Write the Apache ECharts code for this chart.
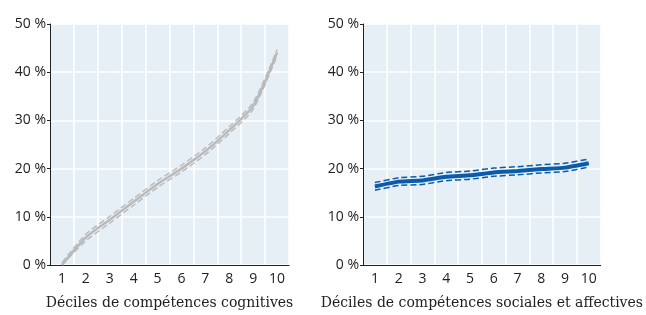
<!DOCTYPE html>
<html>
<head>
<meta charset="utf-8">
<script src="https://cdn.jsdelivr.net/npm/echarts@6/dist/echarts.min.js"></script>
<style>
  html, body { margin: 0; padding: 0; background: #fff; }
  #chart { width: 646px; height: 315px; }
</style>
</head>
<body>
<div id="chart"></div>
<script>
// categories (déciles)
let deciles = ['1', '2', '3', '4', '5', '6', '7', '8', '9', '10']
let yTicks = [0, 10, 20, 30, 40, 50]

// compétences cognitives (gris)
let cogMain = [0, 5.7, 9.4, 13.1, 16.8, 20.0, 23.6, 28.0, 33.0, 44.1]
let cogHigh = [0.5, 6.4, 10.1, 13.8, 17.5, 20.7, 24.3, 28.7, 33.7, 44.7]
let cogLow = [0, 5.0, 8.7, 12.4, 16.1, 19.3, 22.9, 27.3, 32.3, 43.4]

// compétences sociales et affectives (bleu)
let socMain = [16.3, 17.3, 17.55, 18.3, 18.6, 19.2, 19.5, 19.9, 20.2, 21.1]
let socHigh = [17.1, 18.1, 18.4, 19.2, 19.5, 20.1, 20.4, 20.8, 21.1, 22.0]
let socLow = [15.5, 16.5, 16.7, 17.5, 17.8, 18.4, 18.7, 19.1, 19.4, 20.3]

let axisNames = ['Déciles de compétences cognitives', 'Déciles de compétences sociales et affectives']

let gray = '#bababa'
let blue = '#0a5ca8'
let numFont = 'Open Sans'

let myChart = echarts.init(document.getElementById('chart'))

let makeX = (i) => ({
    type: 'category',
    gridIndex: i,
    data: deciles,
    boundaryGap: true,
    name: axisNames[i],
    nameLocation: 'middle',
    nameGap: 31,
    nameTextStyle: {
        fontFamily: 'DejaVu Serif',
        fontSize: 14,
        color: '#222'
    },
    axisLine: { lineStyle: { color: '#222', width: 1 } },
    axisTick: { inside: true, length: 5, lineStyle: { color: '#222' } },
    axisLabel: { fontFamily: numFont, fontSize: 14, color: '#222', margin: 7 },
    splitLine: { show: true, lineStyle: { color: '#fff', width: 1.5 } }
})

let makeY = (i) => ({
    type: 'value',
    gridIndex: i,
    min: yTicks[0],
    max: yTicks[yTicks.length - 1],
    interval: 10,
    axisLine: { show: true, lineStyle: { color: '#222', width: 1 } },
    axisTick: { show: true, length: 3, lineStyle: { color: '#222' } },
    axisLabel: {
        fontFamily: numFont,
        fontSize: 14,
        color: '#222',
        margin: 4,
        formatter: (v) => v + ' %'
    },
    splitLine: { show: true, lineStyle: { color: '#fff', width: 1.5 } }
})

let line = (data, i, color, width, dashed, smooth) => ({
    type: 'line',
    xAxisIndex: i,
    yAxisIndex: i,
    data: data,
    showSymbol: false,
    smooth: smooth,
    z: dashed ? 2 : 3,
    lineStyle: {
        color: color,
        width: width,
        type: dashed ? [6, 3] : 'solid'
    },
    silent: true
})

let option = {
    animation: false,
    grid: [
        { left: 50, top: 24, width: 239, height: 248, show: true, backgroundColor: '#e6eef6', borderWidth: 0 },
        { left: 363, top: 24, width: 240, height: 248, show: true, backgroundColor: '#e6eef6', borderWidth: 0 }
    ],
    xAxis: [makeX(0), makeX(1)],
    yAxis: [makeY(0), makeY(1)],
    series: [
        line(cogHigh, 0, gray, 1.4, true, 0.25),
        line(cogLow, 0, gray, 1.4, true, 0.25),
        line(cogMain, 0, gray, 2.5, false, 0.25),
        line(socHigh, 1, blue, 1.5, true, 0.15),
        line(socLow, 1, blue, 1.5, true, 0.15),
        line(socMain, 1, blue, 4, false, 0.15)
    ]
}
myChart.setOption(option)
</script>
</body>
</html>
